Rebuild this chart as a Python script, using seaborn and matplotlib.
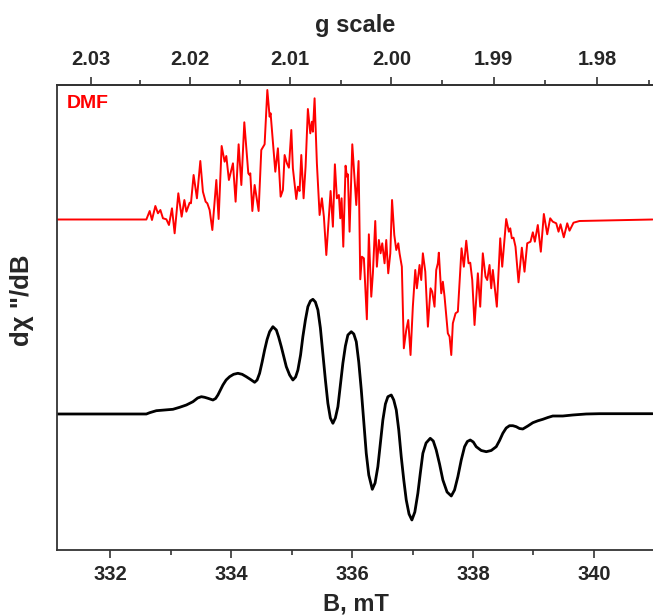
import numpy as np
import pandas as pd
import matplotlib
matplotlib.use("Agg")
import matplotlib.pyplot as plt
from matplotlib.ticker import FixedLocator, FormatStrFormatter
import seaborn as sns

# ---------------- data ----------------
# red trace (DMF): field in mT, derivative signal in a.u. (relative to its baseline)
red_B = [331.110, 332.483, 332.594, 332.649, 332.687, 332.743, 332.786, 332.826, 332.869, 332.925,
         332.968, 333.018, 333.062, 333.123, 333.178, 333.223, 333.256, 333.310, 333.332, 333.376,
         333.431, 333.487, 333.530, 333.575, 333.603, 333.641, 333.686, 333.752, 333.790, 333.840,
         333.889, 333.917, 333.960, 334.027, 334.071, 334.121, 334.166, 334.215, 334.281, 334.303,
         334.314, 334.348, 334.386, 334.452, 334.496, 334.551, 334.596, 334.634, 334.650, 334.728,
         334.771, 334.816, 334.854, 334.882, 334.920, 334.953, 334.993, 335.019, 335.075, 335.102,
         335.130, 335.158, 335.196, 335.229, 335.267, 335.307, 335.334, 335.350, 335.378, 335.416,
         335.461, 335.499, 335.532, 335.572, 335.643, 335.681, 335.714, 335.747, 335.780, 335.803,
         335.825, 335.853, 335.891, 335.913, 335.929, 335.957, 336.002, 336.035, 336.068, 336.106,
         336.134, 336.161, 336.194, 336.243, 336.276, 336.316, 336.343, 336.382, 336.409, 336.442,
         336.470, 336.498, 336.536, 336.564, 336.597, 336.631, 336.660, 336.697, 336.730, 336.763,
         336.784, 336.822, 336.855, 336.895, 336.928, 336.966, 337.004, 337.044, 337.071, 337.115,
         337.143, 337.170, 337.210, 337.253, 337.297, 337.325, 337.363, 337.391, 337.418, 337.434,
         337.474, 337.501, 337.529, 337.583, 337.612, 337.640, 337.666, 337.711, 337.749, 337.777,
         337.810, 337.848, 337.888, 337.926, 337.954, 337.987, 338.025, 338.080, 338.119, 338.162,
         338.207, 338.235, 338.273, 338.301, 338.328, 338.394, 338.450, 338.483, 338.549, 338.593,
         338.616, 338.642, 338.670, 338.703, 338.753, 338.808, 338.852, 338.897, 338.951, 338.990,
         339.023, 339.072, 339.122, 339.172, 339.228, 339.277, 339.320, 339.377, 339.415, 339.448,
         339.502, 339.559, 339.597, 339.663, 339.762, 340.010, 340.970]
red_I = [0.000, 0.000, 0.000, 0.085, -0.005, 0.135, 0.062, 0.095, 0.012, 0.002,
         -0.055, 0.112, -0.138, 0.262, 0.028, 0.195, 0.078, 0.168, 0.162, 0.445,
         0.212, 0.585, 0.278, 0.178, 0.162, 0.095, -0.105, 0.395, 0.005, 0.735,
         0.578, 0.635, 0.395, 0.562, 0.178, 0.752, 0.345, 0.972, 0.462, 0.445,
         0.462, 0.085, 0.345, 0.085, 0.695, 0.752, 1.295, 1.028, 1.062, 0.478,
         0.712, 0.228, 0.295, 0.645, 0.562, 0.518, 0.895, 0.512, 0.205, 0.328,
         0.285, 0.645, 0.212, 0.528, 1.105, 0.862, 0.978, 0.878, 1.212, 0.562,
         0.045, 0.212, 0.028, -0.355, 0.285, -0.072, 0.552, 0.212, 0.245, 0.012,
         0.212, -0.272, 0.538, 0.428, 0.452, -0.122, 0.752, 0.445, 0.145, 0.585,
         -0.598, -0.372, -0.388, -0.998, -0.148, -0.772, -0.538, -0.015, -0.472, -0.205,
         -0.338, -0.238, -0.438, -0.205, -0.538, -0.338, 0.195, -0.155, -0.305, -0.238,
         -0.338, -0.472, -1.288, -1.105, -1.005, -1.355, -0.872, -0.505, -0.688, -0.455,
         -0.605, -0.338, -0.522, -1.072, -0.688, -0.722, -0.872, -0.505, -0.438, -0.332,
         -0.738, -0.622, -0.772, -1.138, -1.172, -1.355, -1.038, -0.938, -0.922, -0.638,
         -0.288, -0.472, -0.212, -0.438, -0.432, -0.605, -1.055, -0.538, -0.872, -0.338,
         -0.572, -0.605, -0.455, -0.688, -0.505, -0.872, -0.188, -0.472, 0.005, -0.122,
         -0.088, -0.188, -0.182, -0.272, -0.628, -0.282, -0.522, -0.238, -0.222, -0.128,
         -0.222, -0.055, -0.322, 0.055, -0.148, 0.012, -0.022, -0.038, -0.122, -0.048,
         -0.178, -0.038, -0.112, -0.032, -0.015, -0.012, 0.000]

# black trace: field in mT, derivative signal in a.u.
black_B = [331.110, 331.822, 332.594, 332.649, 332.759, 332.897, 333.034, 333.145, 333.256, 333.365,
           333.443, 333.504, 333.558, 333.613, 333.696, 333.740, 333.778, 333.861, 333.914, 333.972,
           334.038, 334.109, 334.179, 334.248, 334.319, 334.386, 334.427, 334.468, 334.510, 334.551,
           334.592, 334.634, 334.688, 334.745, 334.783, 334.827, 334.865, 334.910, 334.965, 335.019,
           335.064, 335.102, 335.146, 335.184, 335.226, 335.267, 335.309, 335.350, 335.391, 335.433,
           335.474, 335.515, 335.557, 335.598, 335.639, 335.681, 335.722, 335.764, 335.805, 335.846,
           335.888, 335.929, 335.985, 336.027, 336.068, 336.109, 336.151, 336.192, 336.233, 336.275,
           336.333, 336.379, 336.425, 336.467, 336.508, 336.550, 336.591, 336.647, 336.688, 336.730,
           336.771, 336.812, 336.854, 336.895, 336.941, 336.988, 337.037, 337.087, 337.128, 337.170,
           337.223, 337.292, 337.342, 337.391, 337.446, 337.501, 337.570, 337.640, 337.694, 337.749,
           337.805, 337.860, 337.906, 337.954, 338.004, 338.053, 338.136, 338.219, 338.301, 338.384,
           338.439, 338.493, 338.549, 338.604, 338.659, 338.715, 338.769, 338.824, 338.907, 338.990,
           339.072, 339.155, 339.238, 339.320, 339.486, 339.651, 339.873, 340.093, 340.970]
black_I = [0.000, 0.000, 0.000, 0.013, 0.033, 0.040, 0.047, 0.067, 0.090, 0.123,
           0.160, 0.173, 0.167, 0.157, 0.140, 0.155, 0.190, 0.290, 0.340, 0.373,
           0.397, 0.407, 0.397, 0.373, 0.345, 0.317, 0.340, 0.407, 0.520, 0.640,
           0.745, 0.823, 0.873, 0.840, 0.770, 0.673, 0.580, 0.473, 0.390, 0.340,
           0.370, 0.440, 0.590, 0.773, 0.940, 1.073, 1.130, 1.147, 1.120, 1.040,
           0.860, 0.607, 0.340, 0.107, -0.040, -0.093, -0.040, 0.073, 0.290, 0.507,
           0.680, 0.790, 0.823, 0.800, 0.723, 0.520, 0.240, -0.080, -0.393, -0.610,
           -0.753, -0.690, -0.527, -0.290, -0.060, 0.100, 0.173, 0.190, 0.140, 0.040,
           -0.160, -0.427, -0.660, -0.860, -1.000, -1.060, -0.980, -0.793, -0.590, -0.393,
           -0.290, -0.243, -0.270, -0.360, -0.500, -0.660, -0.780, -0.820, -0.760, -0.627,
           -0.460, -0.327, -0.275, -0.260, -0.280, -0.327, -0.365, -0.377, -0.365, -0.327,
           -0.265, -0.193, -0.140, -0.117, -0.117, -0.127, -0.145, -0.150, -0.120, -0.087,
           -0.068, -0.053, -0.035, -0.020, -0.020, -0.010, 0.000, 0.003, 0.003]

b_ticks = [332, 334, 336, 338, 340]
g_ticks = [2.03, 2.02, 2.01, 2.00, 1.99, 1.98]
g_minor = [2.025, 2.015, 2.005, 1.995, 1.985, 1.975]
G_CONST = 673.3   # g * B (mT), from h*nu/mu_B

# ---------------- plot ----------------
sns.set_theme(style="white")
plt.rcParams["font.family"] = ["Liberation Sans", "DejaVu Sans"]
plt.rcParams["font.weight"] = "bold"

red_offset = 1.945
df_red = pd.DataFrame({"B": red_B, "I": np.array(red_I) + red_offset})
df_black = pd.DataFrame({"B": black_B, "I": black_I})

fig = plt.figure(figsize=(6.53, 6.15), dpi=100)
ax = fig.add_axes([0.0868, 0.1057, 0.9152, 0.7569])

sns.lineplot(data=df_red, x="B", y="I", ax=ax, color="#FF0000", lw=1.4,
             sort=False, estimator=None)
sns.lineplot(data=df_black, x="B", y="I", ax=ax, color="black", lw=2.0,
             sort=False, estimator=None)

ax.set_xlim(331.11, 341.0)
ax.set_ylim(-1.36, 3.295)

spine_c = "#333333"
for s in ["left", "bottom", "top"]:
    ax.spines[s].set_color(spine_c)
    ax.spines[s].set_linewidth(1.3)
ax.spines["right"].set_visible(False)

ax.set_yticks([])
ax.set_ylabel("")
ax.set_xticks(b_ticks)
ax.xaxis.set_minor_locator(FixedLocator([331, 333, 335, 337, 339, 341]))
ax.tick_params(axis="x", which="major", bottom=True, top=False, direction="out",
               length=6, width=1.2, color=spine_c, labelsize=14.5, pad=5)
ax.tick_params(axis="x", which="minor", bottom=True, top=False, direction="out",
               length=3.3, width=1.2, color=spine_c)
for lab in ax.get_xticklabels():
    lab.set_fontweight("bold")
ax.set_xlabel("B, mT", fontsize=17, fontweight="bold", labelpad=6)

secax = ax.secondary_xaxis("top", functions=(lambda b: G_CONST / b, lambda g: G_CONST / g))
secax.set_xticks(g_ticks)
secax.xaxis.set_minor_locator(FixedLocator(g_minor))
secax.xaxis.set_major_formatter(FormatStrFormatter("%.2f"))
secax.tick_params(axis="x", which="major", direction="out", length=6, width=1.2,
                  color=spine_c, labelsize=14.5, pad=5)
secax.tick_params(axis="x", which="minor", direction="out", length=3.3, width=1.2,
                  color=spine_c)
secax.spines["top"].set_color(spine_c)
secax.spines["top"].set_linewidth(1.3)
for lab in secax.get_xticklabels():
    lab.set_fontweight("bold")
secax.set_xlabel("g scale", fontsize=17, fontweight="bold", labelpad=13)

ax.text(0.017, 0.960, "DMF", transform=ax.transAxes, color="#FF0000",
        fontsize=14, fontweight="bold", ha="left", va="center")

fig.text(0.034, 0.512, "dχ \"/dB", rotation=90, ha="center", va="center",
         fontsize=18.5, fontweight="bold")

fig.savefig("out.png", dpi=100)
